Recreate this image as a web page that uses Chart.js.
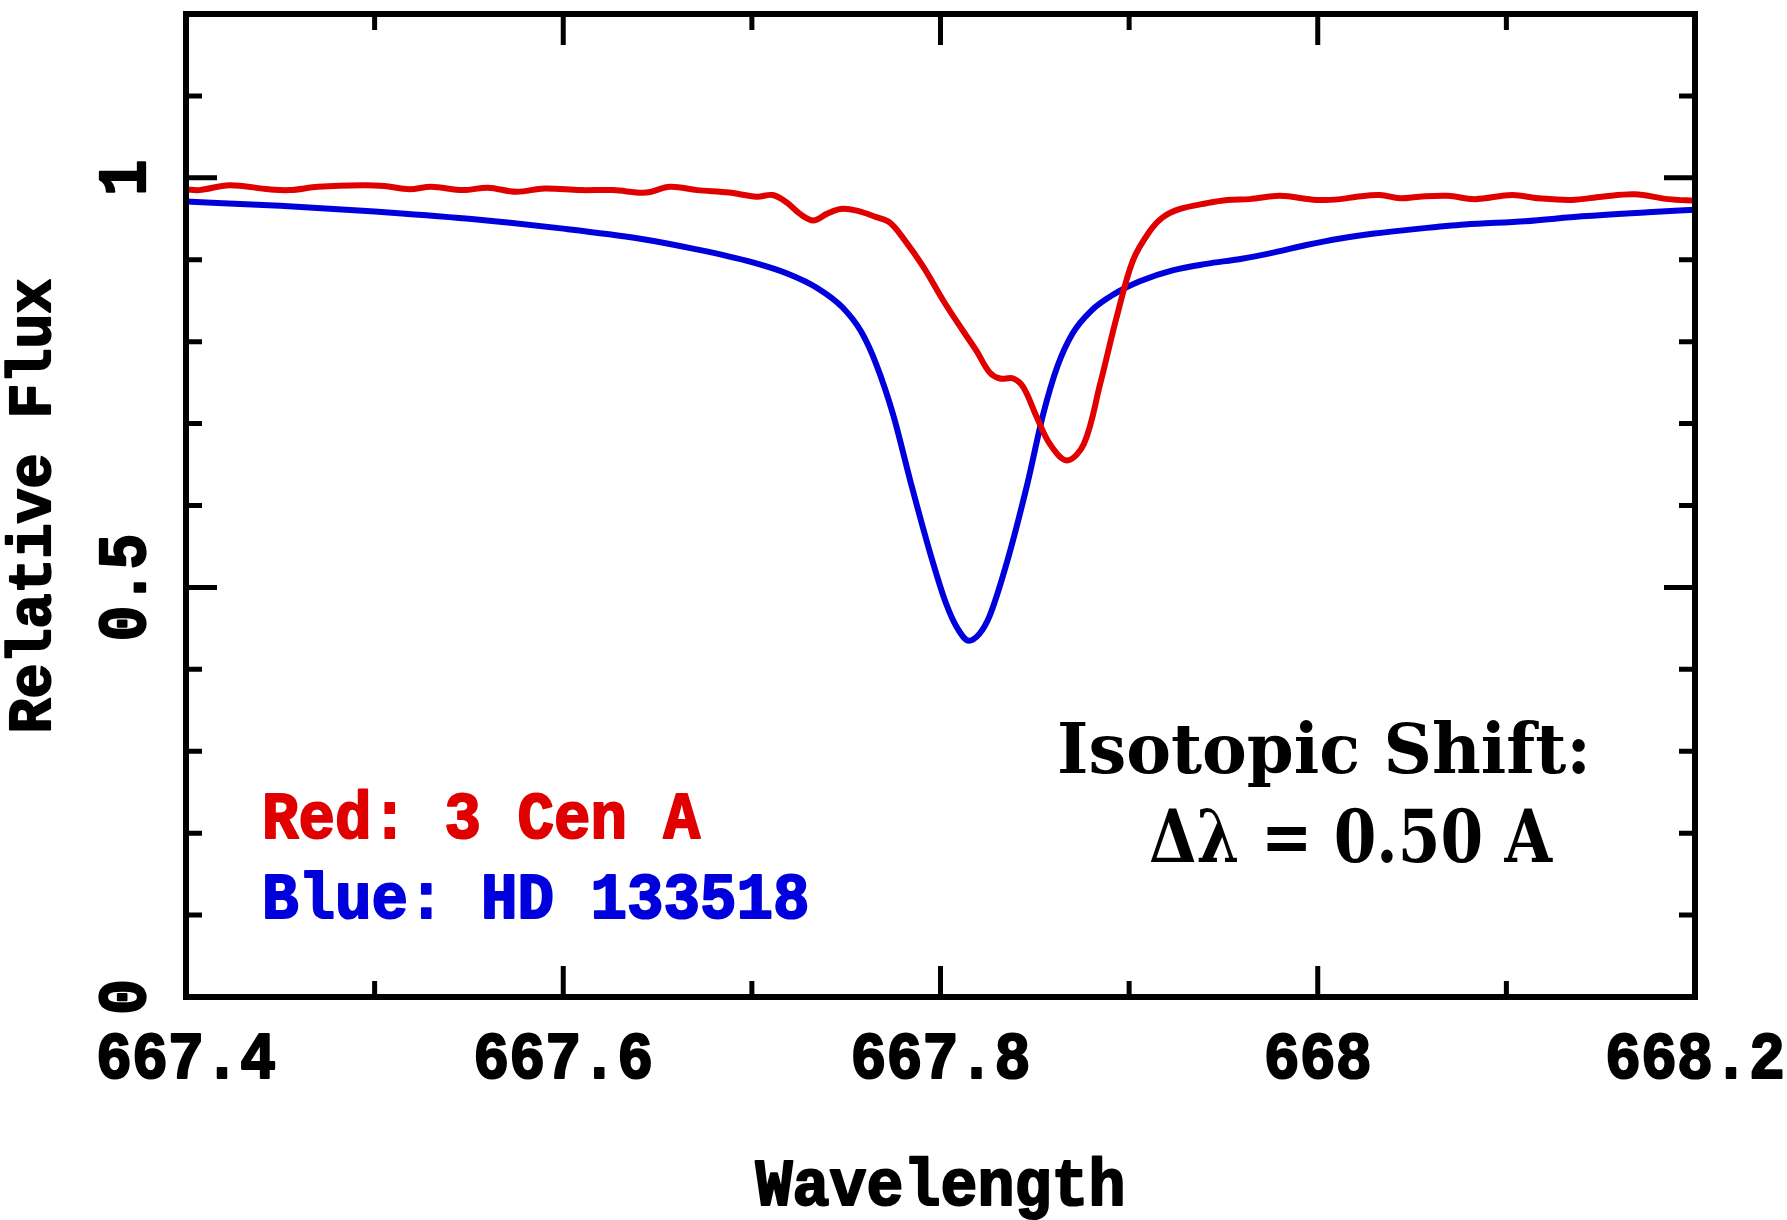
<!DOCTYPE html>
<html>
<head>
<meta charset="utf-8">
<script src="https://cdn.jsdelivr.net/npm/chart.js@4.4.1/dist/chart.umd.min.js"></script>
<style>
  html, body { margin: 0; padding: 0; background: #fff; }
  #wrap { width: 1787px; height: 1220px; }
</style>
</head>
<body>
<div id="wrap"><canvas id="spectrum" width="1787" height="1220"></canvas></div>
<script>
// data (wavelength in nm, relative flux)
const redWave = [667.400, 667.407, 667.423, 667.444, 667.455, 667.470, 667.494, 667.505, 667.5185, 667.530,
  667.547, 667.560, 667.575, 667.590, 667.609, 667.6265, 667.644, 667.6566, 667.671, 667.688,
  667.7026, 667.711, 667.7185, 667.7255, 667.7326, 667.7397, 667.747, 667.7556, 667.766, 667.773,
  667.780, 667.791, 667.8015, 667.812, 667.819, 667.826, 667.8315, 667.8386, 667.844, 667.851,
  667.858, 667.867, 667.876, 667.8846, 667.8934, 667.902, 667.911, 667.918, 667.927, 667.941,
  667.952, 667.964, 667.980, 667.9994, 668.012, 668.0206, 668.033, 668.0436, 668.054, 668.069,
  668.0834, 668.103, 668.117, 668.1346, 668.1506, 668.168, 668.1858, 668.200];
const redFlux = [0.986, 0.985, 0.991, 0.986, 0.985, 0.989, 0.991, 0.990, 0.986, 0.989,
  0.985, 0.988, 0.983, 0.987, 0.985, 0.985, 0.982, 0.989, 0.985, 0.982,
  0.977, 0.979, 0.970, 0.956, 0.948, 0.956, 0.962, 0.960, 0.952, 0.9455,
  0.927, 0.891, 0.850, 0.813, 0.789, 0.7625, 0.755, 0.755, 0.744, 0.708,
  0.675, 0.655, 0.675, 0.748, 0.830, 0.899, 0.935, 0.952, 0.962, 0.969,
  0.973, 0.974, 0.978, 0.973, 0.974, 0.977, 0.979, 0.975, 0.977, 0.978,
  0.974, 0.979, 0.975, 0.973, 0.977, 0.980, 0.974, 0.972];

const blueWave = [667.400, 667.450, 667.500, 667.550, 667.600, 667.640, 667.670, 667.700, 667.720, 667.735,
  667.748, 667.758, 667.766, 667.775, 667.784, 667.794, 667.803, 667.809, 667.815, 667.8205,
  667.826, 667.835, 667.846, 667.8545, 667.862, 667.870, 667.880, 667.892, 667.906, 667.923,
  667.941, 667.959, 667.977, 667.994, 668.012, 668.030, 668.054, 668.078, 668.110, 668.140,
  668.175, 668.200];
const blueFlux = [0.971, 0.966, 0.959, 0.950, 0.938, 0.926, 0.913, 0.897, 0.882, 0.865,
  0.842, 0.812, 0.772, 0.710, 0.630, 0.546, 0.480, 0.450, 0.435, 0.443,
  0.465, 0.529, 0.626, 0.712, 0.770, 0.810, 0.838, 0.858, 0.874, 0.887,
  0.895, 0.901, 0.909, 0.918, 0.926, 0.932, 0.938, 0.943, 0.947, 0.953,
  0.958, 0.961];

const xMajor = [667.4, 667.6, 667.8, 668.0, 668.2];
const xLabels = ['667.4', '667.6', '667.8', '668', '668.2'];
const xMinor = [667.5, 667.7, 667.9, 668.1];
const yMajor = [0, 0.5, 1];
const yLabels = ['0', '0.5', '1'];
const yMinor = [0.1, 0.2, 0.3, 0.4, 0.6, 0.7, 0.8, 0.9, 1.1];

const RED = '#e00000';
const BLUE = '#0000dc';
const MONO = '"Liberation Mono", "DejaVu Sans Mono", monospace';
const SERIF = '"DejaVu Serif", "Liberation Serif", serif';

function pairs(xs, ys) {
  return xs.map((x, i) => ({ x: x, y: ys[i] }));
}

// draws text stretched to a given advance / width and cap height
function drawText(ctx, str, x, y, o) {
  ctx.save();
  ctx.font = 'bold 100px ' + o.family;
  const capRef = ctx.measureText('H').actualBoundingBoxAscent;
  const sx = o.adv ? o.adv / ctx.measureText('0').width : o.width / ctx.measureText(str).width;
  const sy = o.cap / capRef;
  ctx.translate(x, y);
  if (o.rotate) ctx.rotate(o.rotate);
  ctx.scale(sx, sy);
  ctx.fillStyle = o.color || '#000';
  ctx.textAlign = o.align || 'left';
  ctx.textBaseline = 'alphabetic';
  ctx.fillText(str, 0, 0);
  if (o.stroke) {
    ctx.strokeStyle = ctx.fillStyle;
    ctx.lineJoin = 'round';
    ctx.lineWidth = o.stroke / Math.min(sx, sy);
    ctx.strokeText(str, 0, 0);
  }
  ctx.restore();
}

const framePlugin = {
  id: 'frame',
  afterDatasetsDraw(chart) {
    const ctx = chart.ctx;
    const a = chart.chartArea;
    const xs = chart.scales.x, ys = chart.scales.y;
    const bigTick = 31, smallTick = 16;

    ctx.save();
    ctx.strokeStyle = '#000';
    ctx.lineWidth = 5;
    ctx.lineCap = 'butt';
    ctx.beginPath();
    const xt = (v, len) => {
      const px = xs.getPixelForValue(v);
      ctx.moveTo(px, a.bottom); ctx.lineTo(px, a.bottom - len);
      ctx.moveTo(px, a.top); ctx.lineTo(px, a.top + len);
    };
    const yt = (v, len) => {
      const py = ys.getPixelForValue(v);
      ctx.moveTo(a.left, py); ctx.lineTo(a.left + len, py);
      ctx.moveTo(a.right, py); ctx.lineTo(a.right - len, py);
    };
    xMajor.forEach(v => xt(v, bigTick));
    xMinor.forEach(v => xt(v, smallTick));
    yMajor.forEach(v => yt(v, bigTick));
    yMinor.forEach(v => yt(v, smallTick));
    ctx.stroke();

    ctx.lineWidth = 6;
    ctx.lineJoin = 'miter';
    ctx.strokeRect(a.left, a.top, a.right - a.left, a.bottom - a.top);
    ctx.restore();

    // tick labels
    xMajor.forEach((v, i) => {
      drawText(ctx, xLabels[i], xs.getPixelForValue(v), 1078,
        { family: MONO, adv: 36, cap: 45, align: 'center', stroke: 2 });
    });
    yMajor.forEach((v, i) => {
      drawText(ctx, yLabels[i], 145, ys.getPixelForValue(v),
        { family: MONO, adv: 36, cap: 46, align: 'center', rotate: -Math.PI / 2, stroke: 2 });
    });

    // axis titles
    drawText(ctx, 'Wavelength', (a.left + a.right) / 2, 1205,
      { family: MONO, adv: 37, cap: 45, align: 'center', stroke: 2 });
    drawText(ctx, 'Relative Flux', 50, 506,
      { family: MONO, adv: 35, cap: 41, align: 'center', rotate: -Math.PI / 2, stroke: 2 });

    // key
    drawText(ctx, 'Red: 3 Cen A', 262, 838,
      { family: MONO, adv: 36.5, cap: 45, color: RED, stroke: 2 });
    drawText(ctx, 'Blue: HD 133518', 262, 918,
      { family: MONO, adv: 36.5, cap: 44, color: BLUE, stroke: 2 });

    // annotation
    drawText(ctx, 'Isotopic Shift:', 1057, 773, { family: SERIF, width: 534, cap: 51 });
    drawText(ctx, 'Δλ = 0.50 A', 1149, 862, { family: SERIF, width: 403, cap: 53 });
  }
};

const ctx = document.getElementById('spectrum').getContext('2d');
const spectrumChart = new Chart(ctx, {
  type: 'line',
  data: {
    datasets: [
      {
        label: '3 Cen A',
        data: pairs(redWave, redFlux),
        borderColor: RED,
        borderWidth: 6,
        pointRadius: 0,
        tension: 0.35,
        fill: false
      },
      {
        label: 'HD 133518',
        data: pairs(blueWave, blueFlux),
        borderColor: BLUE,
        borderWidth: 6,
        pointRadius: 0,
        cubicInterpolationMode: 'monotone',
        fill: false
      }
    ]
  },
  options: {
    responsive: false,
    animation: false,
    events: [],
    layout: { padding: { left: 186, top: 14, right: 92, bottom: 223 } },
    scales: {
      x: { type: 'linear', min: 667.4, max: 668.2, display: false },
      y: { type: 'linear', min: 0, max: 1.2, display: false }
    },
    plugins: {
      legend: { display: false },
      tooltip: { enabled: false }
    }
  },
  plugins: [framePlugin]
});
</script>
</body>
</html>
